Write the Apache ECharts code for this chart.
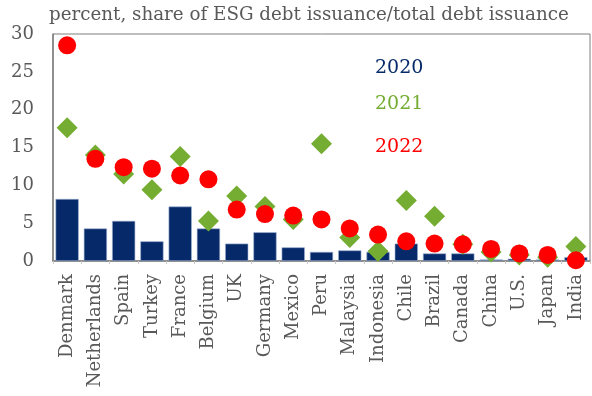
<!DOCTYPE html>
<html>
<head>
<meta charset="utf-8">
<script src="https://cdn.jsdelivr.net/npm/echarts@6/dist/echarts.min.js"></script>
<style>
  html, body { margin: 0; padding: 0; background: #fff; }
  #chart { width: 592px; height: 396px; }
</style>
</head>
<body>
<div id="chart"></div>
<script>
// ESG debt issuance as a share of total debt issuance, by country
const categories = ['Denmark', 'Netherlands', 'Spain', 'Turkey', 'France', 'Belgium', 'UK', 'Germany', 'Mexico', 'Peru',
  'Malaysia', 'Indonesia', 'Chile', 'Brazil', 'Canada', 'China', 'U.S.', 'Japan', 'India'];
const share2020 = [8.2, 4.3, 5.3, 2.6, 7.2, 4.3, 2.3, 3.8, 1.8, 1.2, 1.4, 1.2, 2.3, 1.0, 1.0, 0.2, 0.3, 0.2, 0.5];
const share2021 = [17.6, 14.0, 11.5, 9.4, 13.8, 5.3, 8.6, 7.2, 5.5, 15.5, 3.1, 1.3, 8.0, 5.9, 2.2, 1.2, 0.8, 0.5, 1.9];
const share2022 = [28.5, 13.5, 12.4, 12.2, 11.3, 10.8, 6.8, 6.2, 6.0, 5.5, 4.3, 3.5, 2.6, 2.3, 2.2, 1.6, 1.0, 0.8, 0.1];
const yTicks = [0, 5, 10, 15, 20, 25, 30];
const seriesNames = ['2020', '2021', '2022'];
const title = 'percent, share of ESG debt issuance/total debt issuance';

const FONT = "'DejaVu Serif', serif";
const GREY = '#595959';
const NAVY = '#062a69';
const GREEN = '#74ad31';
const RED = '#ff0000';

const chart = echarts.init(document.getElementById('chart'), null, { renderer: 'canvas' });

function legendText(i, top, color) {
  return {
    type: 'text', left: 375, top: top,
    style: { text: seriesNames[i], fill: color, fontFamily: FONT, fontSize: 19 }
  };
}

chart.setOption({
  animation: false,
  backgroundColor: '#fff',
  textStyle: { fontFamily: FONT },
  grid: {
    left: 53, right: 2, top: 34, bottom: 135,
    show: true, borderColor: '#7f7f7f', borderWidth: 1
  },
  xAxis: {
    type: 'category',
    data: categories,
    axisLine: { show: true, lineStyle: { color: '#7f7f7f', width: 1.5 } },
    axisTick: { show: true, length: 3, lineStyle: { color: '#c8c8c8' } },
    axisLabel: {
      rotate: 90, interval: 0, margin: 13,
      color: GREY, fontFamily: FONT, fontSize: 18
    }
  },
  yAxis: {
    type: 'value',
    min: yTicks[0], max: yTicks[yTicks.length - 1], interval: 5,
    splitLine: { show: false },
    axisLine: { show: true, lineStyle: { color: '#7f7f7f', width: 1.5 } },
    axisTick: { show: false },
    axisLabel: { color: GREY, fontFamily: FONT, fontSize: 18, margin: 19 }
  },
  graphic: [
    {
      type: 'text', left: 49, top: 6,
      style: { text: title, fill: GREY, fontFamily: FONT, fontSize: 18.3 }
    },
    legendText(0, 59, NAVY),
    legendText(1, 95, GREEN),
    legendText(2, 138, RED)
  ],
  series: [
    {
      name: seriesNames[0], type: 'bar', data: share2020,
      barCategoryGap: '18%',
      itemStyle: { color: NAVY, borderColor: '#9fb1d3', borderWidth: 0.6 },
      z: 2
    },
    {
      name: seriesNames[1], type: 'scatter', data: share2021,
      symbol: 'diamond', symbolSize: 21,
      itemStyle: { color: GREEN, opacity: 1 },
      z: 3
    },
    {
      name: seriesNames[2], type: 'scatter', data: share2022,
      symbol: 'circle', symbolSize: 18,
      itemStyle: { color: RED, opacity: 1 },
      z: 4
    }
  ]
});
</script>
</body>
</html>
